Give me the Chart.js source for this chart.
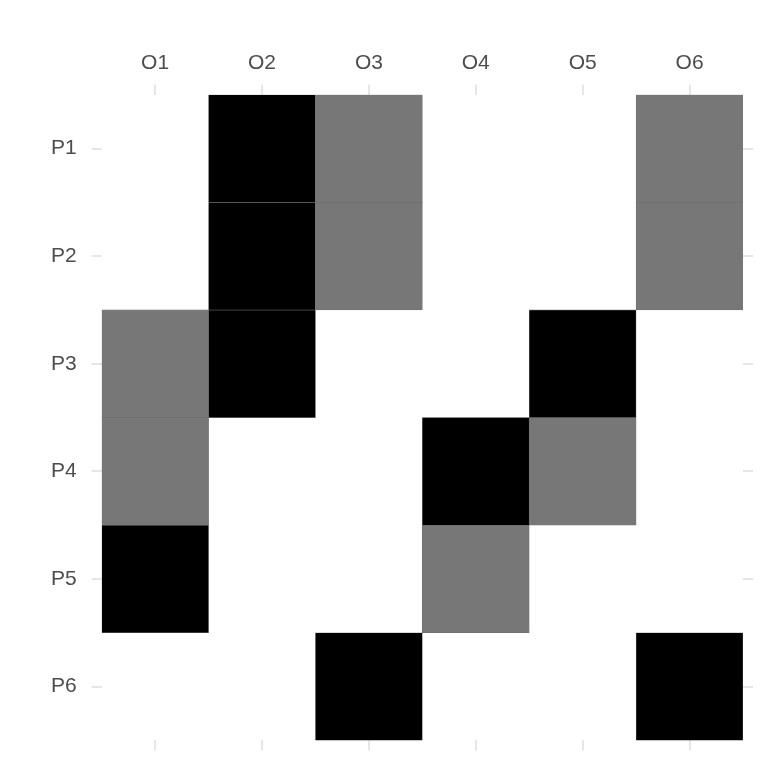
<!DOCTYPE html>
<html>
<head>
<meta charset="utf-8">
<script src="https://cdn.jsdelivr.net/npm/chart.js@4"></script>
<style>
  html, body { margin: 0; padding: 0; background: #ffffff; }
  #wrap { width: 768px; height: 768px; }
</style>
</head>
<body>
<div id="wrap"><canvas id="c" width="768" height="768"></canvas></div>
<script>
// Categories
const colLabels = ['O1', 'O2', 'O3', 'O4', 'O5', 'O6'];
const rowLabels = ['P1', 'P2', 'P3', 'P4', 'P5', 'P6'];
// Cell values per row (0 = empty, 1 = grey, 2 = black)
const rowP1 = [0, 2, 1, 0, 0, 1];
const rowP2 = [0, 2, 1, 0, 0, 1];
const rowP3 = [1, 2, 0, 0, 2, 0];
const rowP4 = [1, 0, 0, 2, 1, 0];
const rowP5 = [2, 0, 0, 1, 0, 0];
const rowP6 = [0, 0, 2, 0, 0, 2];
const rows = [rowP1, rowP2, rowP3, rowP4, rowP5, rowP6];

const fillColors = { 1: '#777777', 2: '#000000' };

const datasets = rows.map((vals, r) => ({
  label: rowLabels[r],
  data: vals.map(v => v === 0 ? null : [r - 0.5, r + 0.5]),
  backgroundColor: vals.map(v => fillColors[v] || 'rgba(0,0,0,0)'),
  borderColor: vals.map(v => v === 0 ? 'rgba(0,0,0,0)' : '#6e6e6e'),
  borderWidth: 0.6,
  borderSkipped: false,
  barPercentage: 1,
  categoryPercentage: 1,
  grouped: false
}));

const tickGrid = { drawOnChartArea: false, drawTicks: true, tickLength: 10, color: '#e6e6e6', lineWidth: 2 };
const font = { family: "Liberation Sans", size: 21 };

new Chart(document.getElementById('c'), {
  type: 'bar',
  data: { labels: colLabels, datasets },
  options: {
    responsive: false,
    animation: false,
    layout: { padding: { left: 36, right: 15, top: 41.5, bottom: 9 } },
    plugins: { legend: { display: false }, tooltip: { enabled: false } },
    scales: {
      x: {
        type: 'category', position: 'top', offset: true,
        grid: Object.assign({ offset: false }, tickGrid),
        border: { display: false },
        ticks: { color: '#4d4d4d', font, padding: 9, maxRotation: 0 }
      },
      x2: {
        type: 'category', position: 'bottom', offset: true, labels: colLabels,
        grid: Object.assign({ offset: false }, tickGrid),
        border: { display: false },
        ticks: { display: false }
      },
      y: {
        type: 'linear', position: 'left', reverse: true, min: -0.5, max: 5.5,
        afterBuildTicks: (axis) => { axis.ticks = rowLabels.map((_, i) => ({ value: i })); },
        grid: tickGrid,
        border: { display: false },
        ticks: { color: '#4d4d4d', font, padding: 15, callback: (v) => rowLabels[v] }
      },
      y2: {
        type: 'linear', position: 'right', reverse: true, min: -0.5, max: 5.5,
        afterBuildTicks: (axis) => { axis.ticks = rowLabels.map((_, i) => ({ value: i })); },
        grid: tickGrid,
        border: { display: false },
        ticks: { display: false }
      }
    }
  }
});
</script>
</body>
</html>
